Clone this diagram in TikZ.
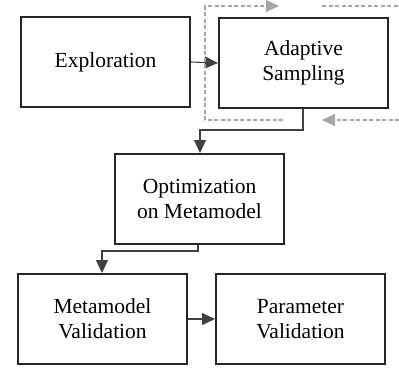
\documentclass[tikz,border=0pt]{standalone}
\usepackage{fontspec}
\setmainfont{Liberation Serif}
\usetikzlibrary{arrows.meta}
\tikzset{
  blk/.style={draw=black!85, line width=2pt, minimum width=169pt, minimum height=90pt, inner sep=0pt, align=center, font=\fontsize{21.5}{25}\selectfont, anchor=north west},
  conn/.style={draw=black!75, line width=1.1pt},
  arr/.style={conn, -{Triangle[length=13pt,width=12pt]}},
  loopln/.style={draw=black!35, line width=1.1pt, dash pattern=on 4pt off 2.5pt},
  looparr/.style={loopln, -{Triangle[length=13pt,width=12pt,fill=black!35]}},
}
\begin{document}
\begin{tikzpicture}[x=1pt,y=-1pt]
\useasboundingbox (0,0) rectangle (399,367);
\node[blk] (expl) at (20,16) {Exploration};
\node[blk] (adap) at (218,17) {Adaptive\\Sampling};
\node[blk] (opt) at (114,153) {Optimization\\on Metamodel};
\node[blk] (mval) at (17,273) {Metamodel\\Validation};
\node[blk] (pval) at (215,273) {Parameter\\Validation};
% connectors
\draw[arr] (expl.east) -- (adap.west);
\draw[arr] (adap.south -| 303,0) -- (303,130) -- (200,130) -- (opt.north -| 200,0);
\draw[arr] (opt.south -| 198,0) -- (198,251) -- (102,251) -- (mval.north -| 102,0);
\draw[arr] (mval.east) -- (pval.west);
% dashed loop
\coordinate (lt) at (205,6);
\coordinate (lb) at (205,120);
\draw[looparr] (283,120) -- (lb) -- (lt) -- (279,6);
\draw[loopln] (322,6) -- (399,6);
\draw[looparr] (399,120) -- (322,120);
\end{tikzpicture}
\end{document}
